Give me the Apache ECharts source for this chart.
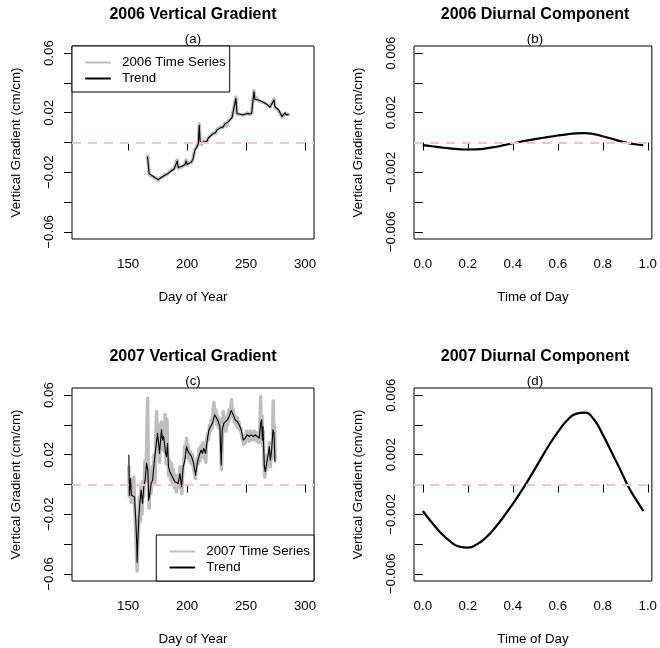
<!DOCTYPE html>
<html>
<head>
<meta charset="utf-8">
<script src="https://cdn.jsdelivr.net/npm/echarts@6/dist/echarts.min.js"></script>
<style>
html,body{margin:0;padding:0;background:#fff}
#chart{width:660px;height:648px}
</style>
</head>
<body>
<div id="chart"></div>
<script>
// ---- 2006 vertical gradient: day of year, raw series and trend ----
const day06 = [166.5,167.8,169,171.2,173,175.5,177,179.7,181,183,185.4,187,189,190.5,191.6,192.5,193.9,196,198,199.2,200,201,203.8,205,206.6,208,209.5,210.3,211,212.3,214,216.5,218,219.5,222.2,224,225.5,227,228.5,230.7,232,233.5,235,236.4,238,239.5,241.4,242.3,243.4,245,247,249,251,253,254.7,256.7,257.5,258.5,260.4,262,263.5,266,268,270.3,271.5,273.7,274.5,276,277.5,279,280.5,281.6,283,284,285.8];
const raw06 = [
 -0.0090,-0.0215,-0.0218,-0.0232,-0.0235,-0.0255,-0.0236,-0.0231,-0.0214,-0.0216,
 -0.0194,-0.0195,-0.0174,-0.0174,-0.0118,-0.0172,-0.0160,-0.0162,-0.0146,-0.0118,
 -0.0152,-0.0137,-0.0134,-0.0106,-0.0048,-0.0039,-0.0006,0.0124,0.0006,-0.0011,
 0.0009,0.0000,0.0034,0.0021,0.0064,0.0061,0.0089,0.0076,0.0104,0.0101,
 0.0129,0.0111,0.0144,0.0146,0.0169,0.0166,0.0304,0.0191,0.0188,0.0186,
 0.0189,0.0186,0.0199,0.0188,0.0199,0.0349,0.0286,0.0304,0.0281,0.0294,
 0.0271,0.0267,0.0251,0.0240,0.0241,0.0293,0.0236,0.0233,0.0216,0.0219,
 0.0171,0.0166,0.0196,0.0189,0.0186];
const trend06 = [
 -0.0097,-0.0209,-0.0222,-0.0227,-0.0238,-0.0249,-0.0240,-0.0227,-0.0218,-0.0212,
 -0.0198,-0.0190,-0.0178,-0.0170,-0.0125,-0.0168,-0.0164,-0.0158,-0.0150,-0.0125,
 -0.0148,-0.0141,-0.0130,-0.0110,-0.0052,-0.0035,-0.0010,0.0116,0.0010,-0.0007,
 0.0005,0.0004,0.0030,0.0025,0.0060,0.0065,0.0085,0.0080,0.0100,0.0105,
 0.0125,0.0115,0.0140,0.0150,0.0165,0.0170,0.0296,0.0195,0.0184,0.0190,
 0.0185,0.0190,0.0195,0.0192,0.0195,0.0341,0.0290,0.0300,0.0285,0.0290,
 0.0275,0.0263,0.0255,0.0236,0.0245,0.0285,0.0240,0.0229,0.0220,0.0215,
 0.0175,0.0162,0.0200,0.0185,0.0190];

// ---- 2007 vertical gradient: raw series ----
const rawDay07 = [
 150.5,151.0,151.8,152.5,153.3,154.0,154.8,155.5,156.3,157.0,
 157.6,158.2,158.8,159.5,160.2,161.0,161.8,162.5,163.3,164.2,
 165.0,165.8,166.5,167.2,167.8,168.6,169.4,170.3,171.2,172.0,
 172.8,173.6,174.2,175.0,175.8,176.6,177.4,178.2,179.0,179.8,
 180.6,181.4,182.2,182.9,183.6,184.4,185.2,186.0,186.8,187.6,
 188.4,189.2,190.0,190.8,191.6,192.4,193.2,194.0,194.8,195.5,
 196.3,197.1,198.0,198.8,199.6,200.4,201.2,202.0,202.8,203.6,
 204.5,205.3,206.2,207.0,207.8,208.6,209.4,210.2,211.0,211.8,
 212.6,213.4,214.2,215.0,215.8,216.6,217.4,218.2,219.0,219.8,
 220.6,221.4,222.2,222.8,223.6,224.4,225.2,226.0,226.8,227.6,
 228.4,229.1,229.8,230.6,231.4,232.2,233.0,233.8,234.6,235.4,
 236.2,237.0,237.7,238.4,239.2,240.0,240.8,241.6,242.4,243.2,
 244.0,244.8,245.6,246.4,247.2,248.0,248.8,249.6,250.4,251.2,
 252.0,252.8,253.6,254.4,255.2,256.0,256.8,257.6,258.4,259.2,
 260.0,260.8,261.6,262.3,262.9,263.5,264.0,264.6,265.2,265.9,
 266.6,267.4,268.2,269.0,269.8,270.6,271.4,272.2,273.0,273.6,
 274.2,274.6];
const raw07 = [
 0.012,-0.008,0.004,-0.012,0.002,-0.010,0.005,-0.014,-0.028,-0.045,
 -0.058,-0.040,-0.030,-0.008,-0.025,0.000,-0.020,0.002,-0.008,0.016,
 0.002,0.030,0.058,0.004,-0.016,0.006,-0.006,0.012,0.004,0.020,
 0.000,0.036,0.049,0.022,0.040,0.015,0.038,0.042,0.024,0.036,
 0.022,0.047,0.014,0.044,0.020,0.006,0.016,0.003,0.014,0.000,
 0.010,-0.002,0.006,-0.005,0.006,-0.002,0.004,0.012,-0.002,-0.006,
 0.010,0.014,0.026,0.018,0.031,0.018,0.026,0.016,0.022,0.014,
 0.020,0.012,0.008,0.004,0.012,0.018,0.014,0.024,0.016,0.026,
 0.020,0.028,0.018,0.025,0.015,0.030,0.034,0.030,0.040,0.036,
 0.044,0.038,0.052,0.055,0.044,0.050,0.040,0.046,0.038,0.044,
 0.034,0.010,0.030,0.049,0.036,0.044,0.036,0.046,0.040,0.050,
 0.044,0.052,0.057,0.046,0.050,0.042,0.046,0.040,0.045,0.038,
 0.042,0.036,0.038,0.032,0.030,0.027,0.033,0.028,0.036,0.030,
 0.035,0.029,0.036,0.030,0.035,0.030,0.036,0.030,0.035,0.029,
 0.034,0.028,0.036,0.059,0.032,0.046,0.026,0.036,0.012,0.005,
 0.012,0.010,0.020,0.016,0.028,0.012,0.024,0.018,0.056,0.030,
 0.040,0.017];

// ---- 2007 vertical gradient: trend ----
const trendDay07 = [
 150.6,151.1,152.0,152.8,154.2,155.4,156.5,157.4,157.6,158.2,
 159.1,159.9,161.0,162.2,163.3,164.4,165.6,166.7,167.5,168.4,
 169.5,170.7,171.8,172.9,174.1,174.9,175.8,176.6,177.5,178.3,
 179.1,180.0,180.8,181.7,182.5,183.4,184.2,185.4,186.8,188.2,
 189.6,191.0,192.5,193.9,195.3,196.7,198.1,199.5,200.9,202.4,
 203.8,205.2,207.2,208.6,210.3,212.0,213.1,214.2,215.7,217.1,
 218.5,219.9,221.6,223.3,225.0,226.4,227.8,228.9,229.8,231.2,
 232.6,234.1,235.7,237.4,239.1,240.8,242.5,244.2,245.9,247.6,
 249.3,251.0,252.7,254.4,256.1,257.8,259.5,261.2,262.4,263.2,
 263.8,264.3,265.5,266.3,267.4,268.9,269.7,270.6,271.7,272.8,
 273.7,274.5];
const trend07 = [
 0.0198,-0.0072,0.0040,-0.0072,-0.0065,-0.0083,-0.0241,-0.0421,-0.0522,-0.0376,
 -0.0218,-0.0128,-0.0038,-0.0128,-0.0016,0.0029,0.0142,0.0097,-0.0106,-0.0061,
 0.0007,0.0029,0.0119,0.0209,0.0288,0.0344,0.0277,0.0209,0.0299,0.0367,
 0.0299,0.0322,0.0277,0.0209,0.0187,0.0277,0.0119,0.0086,0.0097,0.0040,
 0.0018,0.0018,0.0007,0.0074,-0.0016,0.0119,0.0164,0.0254,0.0221,0.0209,
 0.0187,0.0153,0.0063,0.0142,0.0198,0.0232,0.0209,0.0243,0.0209,0.0299,
 0.0367,0.0389,0.0412,0.0468,0.0446,0.0423,0.0389,0.0131,0.0367,0.0412,
 0.0401,0.0434,0.0457,0.0497,0.0468,0.0434,0.0423,0.0401,0.0367,0.0299,
 0.0311,0.0333,0.0322,0.0333,0.0322,0.0333,0.0322,0.0311,0.0412,0.0434,
 0.0299,0.0389,0.0119,0.0086,0.0142,0.0209,0.0254,0.0164,0.0232,0.0367,
 0.0344,0.0153];

// ---- diurnal components (fraction of day) ----
const timeOfDay = [0,0.04,0.08,0.12,0.16,0.20,0.24,0.28,0.32,0.36,0.40,0.44,0.48,0.52,0.56,0.60,0.64,0.68,0.72,0.76,0.80,0.84,0.88,0.92,0.96,0.98];
const diurnal06 = [-0.00018,-0.00025,-0.00033,-0.00040,-0.00045,-0.00047,-0.00046,-0.00040,-0.00030,-0.00018,-0.00005,0.00007,0.00018,0.00028,0.00038,0.00047,0.00055,0.00061,0.00063,0.00056,0.00042,0.00025,0.00008,-0.00006,-0.00015,-0.00019];
const diurnal07 = [-0.00178,-0.00255,-0.00325,-0.00380,-0.00416,-0.00424,-0.00402,-0.00357,-0.00292,-0.00215,-0.00130,-0.00040,0.00058,0.00160,0.00262,0.00352,0.00428,0.00474,0.00482,0.00438,0.00335,0.00215,0.00092,-0.00032,-0.00130,-0.00178];

// ---- tick positions ----
const dayTicks = [150,200,250,300];
const gradTicks = [-0.06,-0.04,-0.02,0,0.02,0.04,0.06];
const gradLabels = [-0.06,-0.02,0.02,0.06];
const todTicks = [0,0.2,0.4,0.6,0.8,1.0];
const diurTicks = [-0.006,-0.004,-0.002,0,0.002,0.004,0.006];
const diurLabels = [-0.006,-0.002,0.002,0.006];

const FONT = "'Liberation Sans', Arial, Helvetica, sans-serif";
const zip = (xs, ys) => xs.map((x, i) => [x, ys[i]]);
const minus = s => s.replace('-', '\u2212');

const TOP_ROW = 46, BOTTOM_ROW = 388, BOX_H = 193;
const grids = [
  {left:72, top:TOP_ROW, width:242, height:BOX_H},
  {left:414, top:TOP_ROW, width:242, height:BOX_H},
  {left:72, top:BOTTOM_ROW, width:242, height:BOX_H},
  {left:414, top:BOTTOM_ROW, width:242, height:BOX_H}
].map(g => Object.assign({show:true, borderColor:'#000', borderWidth:1, backgroundColor:'transparent'}, g));

function xAxisDef(gi, kind) {
  const isDay = kind === 'day';
  return {
    gridIndex: gi, type: 'value',
    min: isDay ? 102.4 : -0.0392,
    max: isDay ? 307.6 : 1.0183,
    axisLine: {show:false},
    splitLine: {show:false},
    axisTick: {show:true, inside:false, length:8, customValues: isDay ? dayTicks : todTicks, lineStyle:{color:'#000', width:1}},
    axisLabel: {customValues: isDay ? dayTicks : todTicks, margin:19, color:'#000', fontSize:13.3, fontFamily:FONT,
      formatter: v => isDay ? String(v) : v.toFixed(1)},
    name: isDay ? 'Day of Year' : 'Time of Day',
    nameLocation: 'middle', nameGap: 52,
    nameTextStyle: {color:'#000', fontSize:13.3, fontFamily:FONT}
  };
}
function yAxisDef(gi, kind) {
  const isGrad = kind === 'grad';
  const lim = isGrad ? 0.0648 : 0.00648;
  return {
    gridIndex: gi, type: 'value', min: -lim, max: lim,
    axisLine: {show:false},
    splitLine: {show:false},
    axisTick: {show:true, inside:false, length:8, customValues: isGrad ? gradTicks : diurTicks, lineStyle:{color:'#000', width:1}},
    axisLabel: {customValues: isGrad ? gradLabels : diurLabels, rotate:90, margin:16, color:'#000', fontSize:13.3, fontFamily:FONT,
      formatter: v => minus(isGrad ? v.toFixed(2) : v.toFixed(3))},
    name: 'Vertical Gradient (cm/cm)',
    nameLocation: 'middle', nameGap: 49, nameRotate: 90,
    nameTextStyle: {color:'#000', fontSize:13.3, fontFamily:FONT}
  };
}

const zeroLine = {
  silent: true, symbol: 'none', label: {show:false},
  lineStyle: {color:'#FFC0CB', width:2, type:[9,7], cap:'butt'},
  emphasis: {disabled:true},
  data: [{yAxis: 0}]
};

function titleDefs(cx, boxTop, main, tag) {
  return [
    {text: main, left: cx, top: boxTop - 39, textAlign: 'center', padding: 0,
     textStyle: {fontSize:16, fontWeight:'bold', color:'#000', fontFamily:FONT}},
    {text: tag, left: cx, top: boxTop - 13, textAlign: 'center', padding: 0,
     textStyle: {fontSize:13.3, fontWeight:'normal', color:'#000', fontFamily:FONT}}
  ];
}

const legendBase = {
  orient: 'vertical', selectedMode: false,
  backgroundColor: '#fff', borderColor: '#000', borderWidth: 1, borderRadius: 0,
  padding: [10, 4, 7, 13], itemGap: 3, itemWidth: 24, itemHeight: 14,
  itemStyle: {opacity: 0},
  formatter: n => n.endsWith('Trend') ? 'Trend' : n,
  textStyle: {fontSize:13.3, color:'#000', fontFamily:FONT, padding:[0,0,0,7]}
};

const rawStyle = {color:'#BEBEBE', width:3.5, cap:'round', join:'round'};
const trendStyle = {color:'#000', width:1.1, cap:'round', join:'round'};

const option = {
  animation: false,
  backgroundColor: '#fff',
  title: [].concat(
    titleDefs(193, TOP_ROW, '2006 Vertical Gradient', '(a)'),
    titleDefs(535, TOP_ROW, '2006 Diurnal Component', '(b)'),
    titleDefs(193, BOTTOM_ROW, '2007 Vertical Gradient', '(c)'),
    titleDefs(535, BOTTOM_ROW, '2007 Diurnal Component', '(d)')
  ),
  legend: [
    Object.assign({}, legendBase, {left:72, top:TOP_ROW, data:['2006 Time Series','2006 Trend']}),
    Object.assign({}, legendBase, {right:346, bottom:648 - BOTTOM_ROW - BOX_H, data:['2007 Time Series','2007 Trend']})
  ],
  grid: grids,
  xAxis: [xAxisDef(0,'day'), xAxisDef(1,'tod'), xAxisDef(2,'day'), xAxisDef(3,'tod')],
  yAxis: [yAxisDef(0,'grad'), yAxisDef(1,'diur'), yAxisDef(2,'grad'), yAxisDef(3,'diur')],
  series: [
    {name:'2006 Time Series', type:'line', xAxisIndex:0, yAxisIndex:0, symbol:'none', showSymbol:false,
     lineStyle:rawStyle, itemStyle:{color:'#BEBEBE'}, data: zip(day06, raw06), z:2},
    {name:'2006 Trend', type:'line', xAxisIndex:0, yAxisIndex:0, symbol:'none', showSymbol:false,
     lineStyle:trendStyle, itemStyle:{color:'#000'}, data: zip(day06, trend06), z:3, markLine: zeroLine},
    {name:'2006 Diurnal', type:'line', xAxisIndex:1, yAxisIndex:1, symbol:'none', showSymbol:false, smooth:true,
     lineStyle:{color:'#000', width:2.2}, data: zip(timeOfDay, diurnal06), z:3, markLine: zeroLine},
    {name:'2007 Time Series', type:'line', xAxisIndex:2, yAxisIndex:2, symbol:'none', showSymbol:false,
     lineStyle:rawStyle, itemStyle:{color:'#BEBEBE'}, data: zip(rawDay07, raw07), z:2},
    {name:'2007 Trend', type:'line', xAxisIndex:2, yAxisIndex:2, symbol:'none', showSymbol:false,
     lineStyle:trendStyle, itemStyle:{color:'#000'}, data: zip(trendDay07, trend07), z:3, markLine: zeroLine},
    {name:'2007 Diurnal', type:'line', xAxisIndex:3, yAxisIndex:3, symbol:'none', showSymbol:false, smooth:true,
     lineStyle:{color:'#000', width:2.2}, data: zip(timeOfDay, diurnal07), z:3, markLine: zeroLine}
  ]
};

const chart = echarts.init(document.getElementById('chart'), null, {renderer:'canvas'});
chart.setOption(option);
</script>
</body>
</html>
